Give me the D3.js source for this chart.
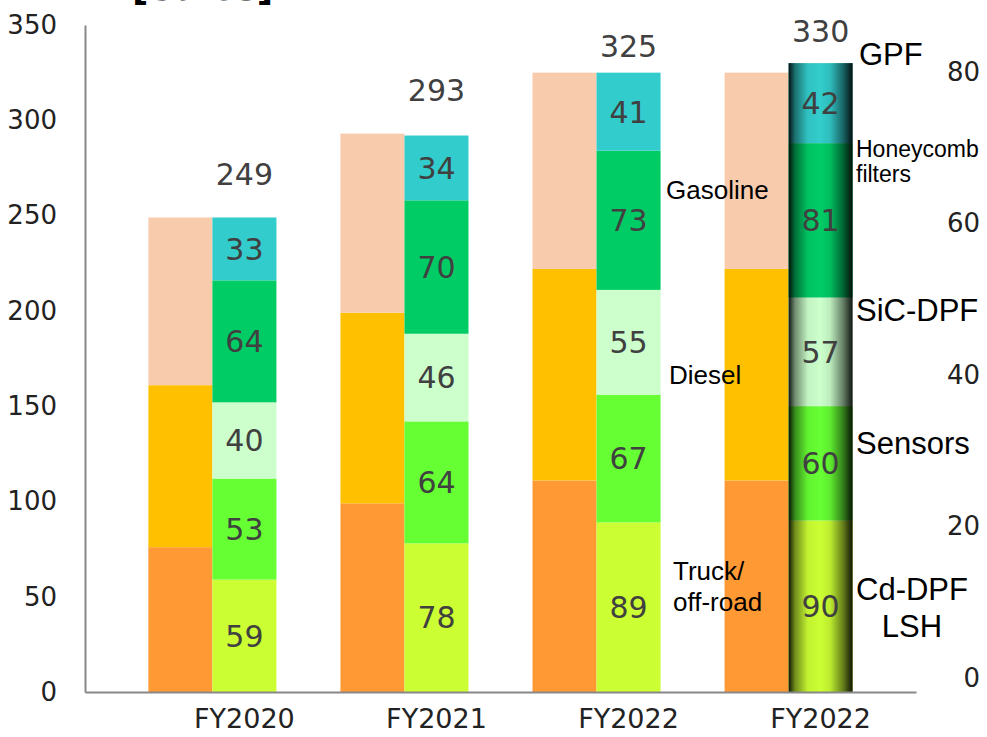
<!DOCTYPE html>
<html>
<head>
<meta charset="utf-8">
<script src="https://cdn.jsdelivr.net/npm/d3@7"></script>
<style>
  body { margin: 0; background: #fff; }
  svg { display: block; }
</style>
</head>
<body>
<script>
// chart data
const categories = ["FY2020", "FY2021", "FY2022", "FY2022"];
// left bar of each pair: sales by end market
const truck = [76, 99, 111, 111];
const diesel = [85, 100, 111, 111];
const gasoline = [88, 94, 103, 103];
// right bar of each pair: sales by product
const cdDpf = [59, 78, 89, 90];
const sensors = [53, 64, 67, 60];
const sicDpf = [40, 46, 55, 57];
const honeycomb = [64, 70, 73, 81];
const gpf = [33, 34, 41, 42];
const totals = [249, 293, 325, 330];
const leftTicks = [0, 50, 100, 150, 200, 250, 300, 350];
const rightTicks = [0, 20, 40, 60, 80];

const width = 987, height = 737;
const numFont = "'DejaVu Sans', Verdana, sans-serif";
const txtFont = "'Liberation Sans', Arial, sans-serif";

const svg = d3.select("body").append("svg")
  .attr("width", width)
  .attr("height", height);

// title, mostly cut off at the top edge
svg.append("text")
  .attr("x", 132).attr("y", 0)
  .attr("font-family", "'DejaVu Sans', sans-serif")
  .attr("font-weight", "bold")
  .attr("font-size", 36)
  .text("[Sales]");

// scales
const y = d3.scaleLinear().domain([0, 350]).range([692, 25]);
const yRight = d3.scaleLinear().domain([0, 80]).range([678, 72]);
const x = d3.scaleBand()
  .domain(d3.range(categories.length))
  .range([85, 916])
  .paddingInner(1 / 3)
  .paddingOuter(0.33);
const xSub = d3.scaleBand().domain(["market", "product"]).range([0, x.bandwidth()]);

// gradient for the highlighted last bar (cylinder look)
const defs = svg.append("defs");
const grad = defs.append("linearGradient").attr("id", "cyl")
  .attr("x1", "0%").attr("x2", "100%").attr("y1", "0%").attr("y2", "0%");
[[0, 0.92], [0.1, 0.45], [0.3, 0.05], [0.5, 0], [0.65, 0.08], [0.85, 0.5], [1, 0.92]]
  .forEach(s => grad.append("stop").attr("offset", s[0]).attr("stop-color", "#000").attr("stop-opacity", s[1]));

const marketSeries = [
  { name: "truck", values: truck, color: "#ff9933" },
  { name: "diesel", values: diesel, color: "#ffc000" },
  { name: "gasoline", values: gasoline, color: "#f8cbad" }
];
const productSeries = [
  { name: "cdDpf", values: cdDpf, color: "#ccff33" },
  { name: "sensors", values: sensors, color: "#66ff33" },
  { name: "sicDpf", values: sicDpf, color: "#ccffcc" },
  { name: "honeycomb", values: honeycomb, color: "#00cc66" },
  { name: "gpf", values: gpf, color: "#33cccc" }
];

function stackSegments(series) {
  let out = [];
  categories.forEach((c, i) => {
    let base = 0;
    series.forEach(s => {
      out.push({ i: i, y0: base, y1: base + s.values[i], v: s.values[i], color: s.color });
      base += s.values[i];
    });
  });
  return out;
}

const marketSegs = stackSegments(marketSeries);
const productSegs = stackSegments(productSeries);

svg.append("g").selectAll("rect")
  .data(marketSegs)
  .join("rect")
  .attr("x", d => x(d.i) + xSub("market"))
  .attr("width", xSub.bandwidth())
  .attr("y", d => y(d.y1))
  .attr("height", d => y(d.y0) - y(d.y1))
  .attr("fill", d => d.color);

svg.append("g").selectAll("rect")
  .data(productSegs)
  .join("rect")
  .attr("x", d => x(d.i) + xSub("product"))
  .attr("width", xSub.bandwidth())
  .attr("y", d => y(d.y1))
  .attr("height", d => y(d.y0) - y(d.y1))
  .attr("fill", d => d.color);

// shading over the last product bar
const last = categories.length - 1;
svg.append("rect")
  .attr("x", x(last) + xSub("product"))
  .attr("width", xSub.bandwidth())
  .attr("y", y(totals[last]))
  .attr("height", y(0) - y(totals[last]))
  .attr("fill", "url(#cyl)");

// segment value labels
svg.append("g").selectAll("text")
  .data(productSegs)
  .join("text")
  .attr("x", d => x(d.i) + xSub("product") + xSub.bandwidth() / 2)
  .attr("y", d => y((d.y0 + d.y1) / 2))
  .attr("dy", "0.36em")
  .attr("text-anchor", "middle")
  .attr("font-family", numFont)
  .attr("font-size", 30)
  .attr("fill", "#404040")
  .text(d => d.v);

// totals above the bars
const totalGap = [43, 43, 26, 32];
svg.append("g").selectAll("text")
  .data(totals)
  .join("text")
  .attr("x", (d, i) => x(i) + xSub("product") + xSub.bandwidth() / 2)
  .attr("y", (d, i) => y(d) - totalGap[i])
  .attr("dy", "0.36em")
  .attr("text-anchor", "middle")
  .attr("font-family", numFont)
  .attr("font-size", 30)
  .attr("fill", "#404040")
  .text(d => d);

// left axis
const gLeft = svg.append("g")
  .attr("transform", "translate(85,0)")
  .call(d3.axisLeft(y).tickValues(leftTicks).tickSize(0).tickSizeOuter(0).tickPadding(28));
gLeft.select(".domain").attr("stroke", "#888").attr("stroke-width", 2);
gLeft.selectAll("text").attr("font-family", numFont).attr("font-size", 26).attr("fill", "#222");

// bottom axis
const gBottom = svg.append("g")
  .attr("transform", "translate(0,692)")
  .call(d3.axisBottom(x).tickSize(0).tickSizeOuter(0).tickPadding(17).tickFormat(i => categories[i]));
gBottom.select(".domain").attr("stroke", "#888").attr("stroke-width", 2);
gBottom.selectAll("text")
  .attr("dx", xSub.bandwidth() / 2)
  .attr("font-family", numFont).attr("font-size", 27).attr("fill", "#222");

// right axis (no line)
const gRight = svg.append("g")
  .attr("transform", "translate(980,0)")
  .call(d3.axisRight(yRight).tickValues(rightTicks).tickSize(0).tickPadding(0));
gRight.select(".domain").remove();
gRight.selectAll("text")
  .attr("text-anchor", "end")
  .attr("font-family", numFont).attr("font-size", 26).attr("fill", "#222");

// annotations
const notes = [
  { t: "Gasoline", x: 666, y: 199, s: 26, a: "start" },
  { t: "Diesel", x: 669, y: 384, s: 26, a: "start" },
  { t: "Truck/", x: 673, y: 580, s: 26, a: "start" },
  { t: "off-road", x: 673, y: 611, s: 26, a: "start" },
  { t: "GPF", x: 859, y: 65, s: 31, a: "start" },
  { t: "Honeycomb", x: 856, y: 157, s: 23, a: "start" },
  { t: "filters", x: 856, y: 182, s: 23, a: "start" },
  { t: "SiC-DPF", x: 856, y: 321, s: 31, a: "start" },
  { t: "Sensors", x: 856, y: 454, s: 31, a: "start" },
  { t: "Cd-DPF", x: 912, y: 600, s: 31, a: "middle" },
  { t: "LSH", x: 912, y: 637, s: 31, a: "middle" }
];
svg.append("g").selectAll("text")
  .data(notes)
  .join("text")
  .attr("x", d => d.x)
  .attr("y", d => d.y)
  .attr("text-anchor", d => d.a)
  .attr("font-family", txtFont)
  .attr("font-size", d => d.s)
  .attr("fill", "#000")
  .text(d => d.t);
</script>
</body>
</html>
